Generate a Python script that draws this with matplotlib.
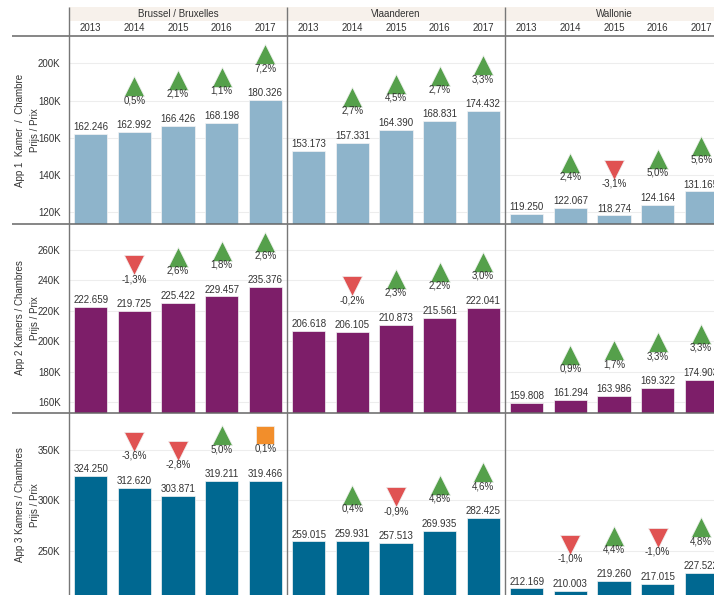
import matplotlib
matplotlib.use("Agg")
import matplotlib.pyplot as plt
from matplotlib.transforms import offset_copy
from matplotlib.patches import Rectangle

plt.rcParams['font.family'] = ['Liberation Sans', 'DejaVu Sans']

# ---------------- data ----------------
regions = ["Brussel / Bruxelles", "Vlaanderen", "Wallonie"]
years = ["2013", "2014", "2015", "2016", "2017"]
row_labels = ["App 1  Kamer  /  Chambre", "App 2 Kamers / Chambres", "App 3 Kamers / Chambres"]
measure_label = "Prijs / Prix"

app1_brussel = [162246, 162992, 166426, 168198, 180326]
app1_vlaanderen = [153173, 157331, 164390, 168831, 174432]
app1_wallonie = [119250, 122067, 118274, 124164, 131165]
app2_brussel = [222659, 219725, 225422, 229457, 235376]
app2_vlaanderen = [206618, 206105, 210873, 215561, 222041]
app2_wallonie = [159808, 161294, 163986, 169322, 174903]
app3_brussel = [324250, 312620, 303871, 319211, 319466]
app3_vlaanderen = [259015, 259931, 257513, 269935, 282425]
app3_wallonie = [212169, 210003, 219260, 217015, 227522]

pct1_brussel = [None, 0.5, 2.1, 1.1, 7.2]
pct1_vlaanderen = [None, 2.7, 4.5, 2.7, 3.3]
pct1_wallonie = [None, 2.4, -3.1, 5.0, 5.6]
pct2_brussel = [None, -1.3, 2.6, 1.8, 2.6]
pct2_vlaanderen = [None, -0.2, 2.3, 2.2, 3.0]
pct2_wallonie = [None, 0.9, 1.7, 3.3, 3.3]
pct3_brussel = [None, -3.6, -2.8, 5.0, 0.1]
pct3_vlaanderen = [None, 0.4, -0.9, 4.8, 4.6]
pct3_wallonie = [None, -1.0, 4.4, -1.0, 4.8]

values = [[app1_brussel, app1_vlaanderen, app1_wallonie],
          [app2_brussel, app2_vlaanderen, app2_wallonie],
          [app3_brussel, app3_vlaanderen, app3_wallonie]]
pcts = [[pct1_brussel, pct1_vlaanderen, pct1_wallonie],
        [pct2_brussel, pct2_vlaanderen, pct2_wallonie],
        [pct3_brussel, pct3_vlaanderen, pct3_wallonie]]

yticks = [[120000, 140000, 160000, 180000, 200000],
          [160000, 180000, 200000, 220000, 240000, 260000],
          [250000, 300000, 350000]]
ylims = [(113700, 214700), (153000, 277000), (198700, 387000)]

# ---------------- style ----------------
W, H = 714, 595
bar_colors = ["#8EB4CB", "#7D1E69", "#006891"]
up_color, down_color, flat_color = "#55A04B", "#E05252", "#F28E2B"
txt = "#333333"
fs = 7

fig = plt.figure(figsize=(W / 100, H / 100), dpi=100)
fig.patch.set_facecolor("white")


def add_ax(x0, y0, x1, y1, **kw):
    return fig.add_axes([x0 / W, 1 - y1 / H, (x1 - x0) / W, (y1 - y0) / H], **kw)


col_x = [69, 287, 505]
col_w = 218
row_y = [(36, 224), (224, 413), (413, 602)]

for r in range(3):
    for c in range(3):
        y0, y1 = row_y[r]
        ax = add_ax(col_x[c], y0, col_x[c] + col_w, y1)
        ax.set_facecolor("none")
        ax.set_xlim(-0.5, 4.5)
        ax.set_ylim(*ylims[r])
        ax.set_yticks(yticks[r])
        ax.grid(axis="y", color="#EDEDED", linewidth=0.8)
        ax.set_axisbelow(True)
        ax.set_xticks([])
        for s in ax.spines.values():
            s.set_visible(False)
        ax.tick_params(axis="y", length=0, pad=6, labelsize=fs, labelcolor=txt)
        if c == 0:
            ax.set_yticklabels([f"{int(t / 1000)}K" for t in yticks[r]])
        else:
            ax.set_yticklabels([])
        vals = values[r][c]
        ps = pcts[r][c]
        xs = list(range(len(years)))
        ax.bar(xs, vals, width=0.76, color=bar_colors[r], edgecolor="#F4F4F4",
               linewidth=0.5, zorder=2)
        mk_tr = offset_copy(ax.transData, fig=fig, x=0, y=33, units="points")
        for i, (v, p) in enumerate(zip(vals, ps)):
            ax.annotate(f"{v:,}".replace(",", "."), xy=(i, v), xytext=(0, 5),
                        textcoords="offset points", ha="center", va="center",
                        fontsize=fs, color=txt, annotation_clip=False)
            if p is None:
                continue
            if p > 0.15:
                m, col = "^", up_color
            elif p < -0.15:
                m, col = "v", down_color
            else:
                m, col = "s", flat_color
            ax.plot([i], [v], marker=m, markersize=14 if m != "s" else 13,
                    color=col, markeredgecolor="#F0F0F0", markeredgewidth=0.5,
                    transform=mk_tr, clip_on=False, zorder=3)
            ax.annotate(f"{p:.1f}%".replace(".", ","), xy=(i, v), xytext=(0, 23),
                        textcoords="offset points", ha="center", va="center",
                        fontsize=fs, color=txt, annotation_clip=False)

# ---------------- overlay: headers, separators, row labels ----------------
ov = add_ax(0, 0, W, H)
ov.set_xlim(0, W)
ov.set_ylim(H, 0)
ov.axis("off")
ov.set_zorder(10)

ov.add_patch(Rectangle((69, 7), W - 69, 14, facecolor="#F7F1EB", edgecolor="none"))
for c in range(3):
    cx = col_x[c] + col_w / 2
    ov.text(cx, 14, regions[c], ha="center", va="center", fontsize=fs, color=txt)
    for i, yr in enumerate(years):
        xx = col_x[c] + col_w * (i + 0.5) / len(years)
        ov.text(xx, 28, yr, ha="center", va="center", fontsize=fs, color=txt)

for y in [36, 224, 413]:
    ov.plot([12, W], [y, y], color="#666666", linewidth=1.1, solid_capstyle="butt")
for x in col_x:
    ov.plot([x, x], [7, H], color="#777777", linewidth=1.0, solid_capstyle="butt")

row_centers = [130, 318, 505]
for r in range(3):
    ov.text(20, row_centers[r], row_labels[r], rotation=90, ha="center", va="center",
            fontsize=fs, color=txt)
    ov.text(35, row_centers[r], measure_label, rotation=90, ha="center", va="center",
            fontsize=fs, color=txt)

fig.savefig("out.png", dpi=100)
